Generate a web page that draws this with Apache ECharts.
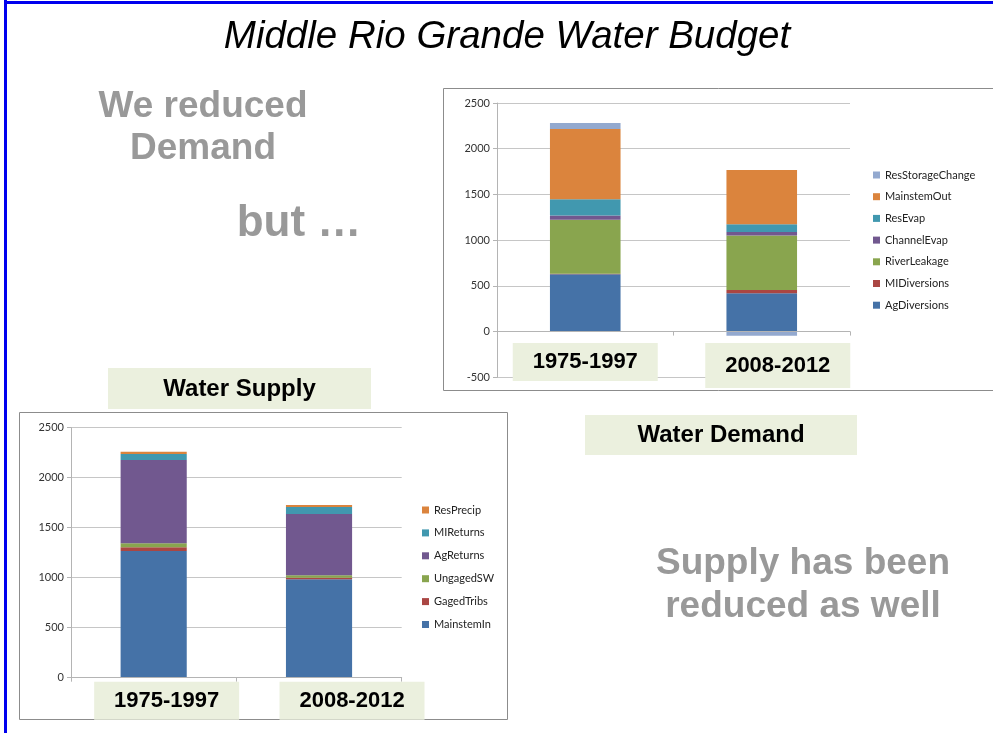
<!DOCTYPE html>
<html>
<head>
<meta charset="utf-8">
<script src="https://cdn.jsdelivr.net/npm/echarts@6/dist/echarts.min.js"></script>
<style>
html,body{margin:0;padding:0;background:#fff;}
#chart{width:993px;height:733px;}
</style>
</head>
<body>
<div id="chart"></div>
<script>
// ---- data ----
const categories = ['1975-1997', '2008-2012'];

// Water Demand (stack order bottom -> top)
const demandNames = ['AgDiversions', 'MIDiversions', 'RiverLeakage', 'ChannelEvap', 'ResEvap', 'MainstemOut', 'ResStorageChange'];
const agDiversions = [628, 420];
const miDiversions = [5, 35];
const riverLeakage = [590, 596];
const channelEvap = [47, 37];
const resEvap = [176, 87];
const mainstemOut = [770, 592];
const resStorageChange = [65, -45];
const demandValues = [agDiversions, miDiversions, riverLeakage, channelEvap, resEvap, mainstemOut, resStorageChange];

// Water Supply (stack order bottom -> top)
const supplyNames = ['MainstemIn', 'GagedTribs', 'UngagedSW', 'AgReturns', 'MIReturns', 'ResPrecip'];
const mainstemIn = [1267, 984];
const gagedTribs = [38, 16];
const ungagedSW = [40, 24];
const agReturns = [833, 613];
const miReturns = [60, 70];
const resPrecip = [22, 20];
const supplyValues = [mainstemIn, gagedTribs, ungagedSW, agReturns, miReturns, resPrecip];

// tick values
const demandTicks = { min: -500, max: 2500, interval: 500 };
const supplyTicks = { min: 0, max: 2500, interval: 500 };

// ---- styles ----
const demandColors = ['#4572A7', '#AA4643', '#89A54E', '#71588F', '#4198AF', '#DB843D', '#93A9CF'];
const supplyColors = ['#4572A7', '#AA4643', '#89A54E', '#71588F', '#4198AF', '#DB843D'];
const slideFont = 'Liberation Sans';
const smallFont = 'Lato';
const boxFill = '#ebf0de';
const grayText = '#999999';

const chart = echarts.init(document.getElementById('chart'));

function boxRich(heights) {
  const rich = {};
  heights.forEach((h, i) => {
    rich['b' + i] = {
      width: 145, height: h, lineHeight: 38, align: 'center', verticalAlign: 'top',
      backgroundColor: boxFill, fontSize: 22, fontWeight: 'bold',
      fontFamily: slideFont, color: '#000'
    };
  });
  rich.s0 = { width: 0, height: 1 };
  rich.s1 = { width: 0, height: 1 };
  return rich;
}

function makeXAxis(gridIndex, margin, offsets, heights) {
  const rich = boxRich(heights);
  offsets.forEach((o, i) => { rich['s' + i] = { width: 2 * o, height: 1, fontSize: 10 }; });
  return {
    type: 'category', gridIndex: gridIndex, data: categories, z: 5,
    axisLine: { show: true, lineStyle: { color: '#b4b4b4', width: 1 } },
    axisTick: { show: true, length: 4, lineStyle: { color: '#b4b4b4' } },
    axisLabel: {
      interval: 0, margin: margin,
      formatter: (v, i) => (offsets[i] > 0 ? '{s' + i + '| }' : '') + '{b' + i + '|' + v + '}',
      rich: rich
    },
    splitLine: { show: false }
  };
}

function makeYAxis(gridIndex, ticks) {
  return {
    type: 'value', gridIndex: gridIndex, min: ticks.min, max: ticks.max, interval: ticks.interval,
    axisLine: { show: true, lineStyle: { color: '#b4b4b4', width: 1 } },
    axisTick: { show: true, length: 4, lineStyle: { color: '#b4b4b4' } },
    axisLabel: { fontSize: 11, color: '#333', fontFamily: smallFont, margin: 7, formatter: v => String(v) },
    splitLine: { show: true, lineStyle: { color: '#c6c6c6', width: 1 } }
  };
}

const series = [];
demandNames.forEach((n, i) => {
  series.push({
    name: n, type: 'bar', xAxisIndex: 0, yAxisIndex: 0, stack: 'demand',
    barWidth: '40%', data: demandValues[i],
    itemStyle: { color: demandColors[i] }
  });
});
supplyNames.forEach((n, i) => {
  series.push({
    name: n, type: 'bar', xAxisIndex: 1, yAxisIndex: 1, stack: 'supply',
    barWidth: '40%', data: supplyValues[i],
    itemStyle: { color: supplyColors[i] }
  });
});

const legendText = { fontSize: 11, fontFamily: smallFont, color: '#222', lineHeight: 12 };

chart.setOption({
  backgroundColor: '#ffffff',
  animation: false,
  grid: [
    { left: 497, right: 143, top: 103, bottom: 355.7 },
    { left: 71, right: 591.3, top: 427.7, bottom: 55.3 }
  ],
  xAxis: [
    makeXAxis(0, -34.3, [0, 16], [38, 45]),
    makeXAxis(1, 4, [13, 33], [38, 38])
  ],
  yAxis: [
    makeYAxis(0, demandTicks),
    makeYAxis(1, supplyTicks)
  ],
  legend: [
    {
      orient: 'vertical', left: 868, top: 164, itemWidth: 7, itemHeight: 7, itemGap: 9.7,
      icon: 'rect', data: demandNames.slice().reverse(), textStyle: legendText, selectedMode: false
    },
    {
      orient: 'vertical', left: 417, top: 499, itemWidth: 7, itemHeight: 7, itemGap: 10.9,
      icon: 'rect', data: supplyNames.slice().reverse(), textStyle: legendText, selectedMode: false
    }
  ],
  series: series,
  graphic: [
    // slide border
    { type: 'rect', shape: { x: 4, y: 0, width: 3, height: 733 }, style: { fill: '#0000ee' }, silent: true },
    { type: 'rect', shape: { x: 4, y: 1, width: 989, height: 3 }, style: { fill: '#0000ee' }, silent: true },
    // chart frames
    { type: 'rect', shape: { x: 443.5, y: 88.5, width: 560, height: 302 }, style: { fill: 'none', stroke: '#8c8c8c', lineWidth: 1 }, silent: true },
    { type: 'rect', shape: { x: 19.5, y: 412.5, width: 488, height: 307 }, style: { fill: 'none', stroke: '#8c8c8c', lineWidth: 1 }, silent: true },
    // title
    { type: 'text', x: 507, y: 37, style: { text: 'Middle Rio Grande Water Budget', font: 'italic 38.5px "Liberation Sans"', fill: '#000', align: 'center', verticalAlign: 'middle' } },
    // gray statements
    { type: 'text', x: 203, y: 107, style: { text: 'We reduced', font: 'bold 37px "Liberation Sans"', fill: grayText, align: 'center', verticalAlign: 'middle' } },
    { type: 'text', x: 203, y: 149, style: { text: 'Demand', font: 'bold 37px "Liberation Sans"', fill: grayText, align: 'center', verticalAlign: 'middle' } },
    { type: 'text', x: 299, y: 224, style: { text: 'but …', font: 'bold 44px "Liberation Sans"', fill: grayText, align: 'center', verticalAlign: 'middle' } },
    { type: 'text', x: 803, y: 564, style: { text: 'Supply has been', font: 'bold 37px "Liberation Sans"', fill: grayText, align: 'center', verticalAlign: 'middle' } },
    { type: 'text', x: 803, y: 607, style: { text: 'reduced as well', font: 'bold 37px "Liberation Sans"', fill: grayText, align: 'center', verticalAlign: 'middle' } },
    // chart captions
    { type: 'rect', shape: { x: 108, y: 368, width: 263, height: 41 }, style: { fill: boxFill }, silent: true },
    { type: 'text', x: 239.5, y: 389, style: { text: 'Water Supply', font: 'bold 24px "Liberation Sans"', fill: '#000', align: 'center', verticalAlign: 'middle' } },
    { type: 'rect', shape: { x: 585, y: 415, width: 272, height: 40 }, style: { fill: boxFill }, silent: true },
    { type: 'text', x: 721, y: 435, style: { text: 'Water Demand', font: 'bold 24px "Liberation Sans"', fill: '#000', align: 'center', verticalAlign: 'middle' } }
  ]
});
</script>
</body>
</html>
